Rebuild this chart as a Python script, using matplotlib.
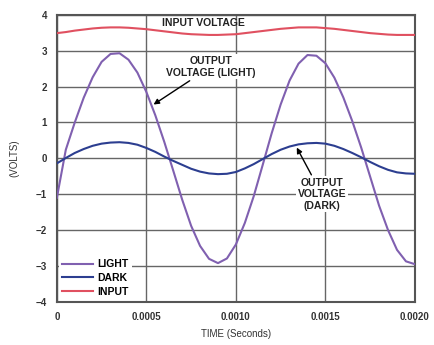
import matplotlib
matplotlib.use("Agg")
import matplotlib.pyplot as plt

plt.rcParams['font.family'] = ['Liberation Sans', 'DejaVu Sans']
plt.rcParams['font.weight'] = 'bold'

# time axis (seconds)
time_s = [0.0, 0.00005, 0.0001, 0.00015, 0.0002, 0.00025, 0.0003, 0.00035, 0.0004, 0.00045,
          0.0005, 0.00055, 0.0006, 0.00065, 0.0007, 0.00075, 0.0008, 0.00085, 0.0009, 0.00095,
          0.001, 0.00105, 0.0011, 0.00115, 0.0012, 0.00125, 0.0013, 0.00135, 0.0014, 0.00145,
          0.0015, 0.00155, 0.0016, 0.00165, 0.0017, 0.00175, 0.0018, 0.00185, 0.0019, 0.00195,
          0.002]

# output voltage, light
light_v = [-1.1, 0.24, 1.0, 1.69, 2.26, 2.69, 2.91, 2.93, 2.75, 2.39,
           1.85, 1.2, 0.46, -0.34, -1.15, -1.88, -2.44, -2.8, -2.92, -2.79,
           -2.4, -1.8, -1.05, -0.18, 0.7, 1.5, 2.17, 2.64, 2.88, 2.86,
           2.65, 2.25, 1.7, 1.04, 0.3, -0.51, -1.32, -2.0, -2.55, -2.87,
           -2.95]

# output voltage, dark
dark_v = [-0.14, 0.01, 0.15, 0.26, 0.35, 0.41, 0.44, 0.45, 0.43, 0.38,
          0.29, 0.18, 0.05, -0.07, -0.18, -0.29, -0.37, -0.42, -0.44, -0.43,
          -0.38, -0.28, -0.16, -0.02, 0.12, 0.24, 0.33, 0.39, 0.42, 0.43,
          0.41, 0.35, 0.26, 0.15, 0.03, -0.1, -0.22, -0.32, -0.39, -0.42,
          -0.43]

# input voltage
input_v = [3.49, 3.52, 3.56, 3.59, 3.62, 3.64, 3.65, 3.65, 3.64, 3.62,
           3.6, 3.57, 3.54, 3.51, 3.48, 3.46, 3.45, 3.44, 3.44, 3.45,
           3.46, 3.49, 3.52, 3.55, 3.58, 3.61, 3.63, 3.65, 3.65, 3.65,
           3.63, 3.61, 3.58, 3.55, 3.52, 3.49, 3.47, 3.45, 3.44, 3.44,
           3.44]

x_ticks = [0, 0.0005, 0.001, 0.0015, 0.002]
x_labels = ['0', '0.0005', '0.0010', '0.0015', '0.0020']
y_ticks = [-4, -3, -2, -1, 0, 1, 2, 3, 4]

fig = plt.figure(figsize=(4.34, 3.45), dpi=100)
ax = fig.add_axes([0.131, 0.125, 0.825, 0.832])

ax.plot(time_s, light_v, color='#8060b0', lw=1.5, label='LIGHT', zorder=3)
ax.plot(time_s, dark_v, color='#2c3e90', lw=1.5, label='DARK', zorder=3)
ax.plot(time_s, input_v, color='#e05060', lw=1.5, label='INPUT', zorder=3)

ax.set_xlim(0, 0.002)
ax.set_ylim(-4, 4)
ax.set_xticks(x_ticks)
ax.set_xticklabels(x_labels)
ax.set_yticks(y_ticks)
ax.set_yticklabels([str(v).replace('-', '\u2212') for v in y_ticks])
ax.tick_params(length=0, labelsize=7, pad=7, colors='#333333')
ax.grid(True, color='#666666', lw=1.0, zorder=1)
for s in ax.spines.values():
    s.set_color('#555555')
    s.set_linewidth(1.5)

ax.set_xlabel('TIME (Seconds)', fontsize=7, labelpad=5, color='#333333')
ax.set_ylabel('(VOLTS)', fontsize=7, labelpad=12, color='#333333')

box = dict(boxstyle='square,pad=0.15', fc='white', ec='none')
ax.text(0.00082, 3.77, 'INPUT VOLTAGE', fontsize=7.5, ha='center', va='center',
        color='#222222', zorder=4)
ax.annotate('OUTPUT\nVOLTAGE (LIGHT)', xy=(0.00054, 1.5), xytext=(0.00086, 2.55),
            fontsize=7.5, ha='center', va='center', color='#222222', bbox=box,
            arrowprops=dict(arrowstyle='-|>', color='black', lw=1.0,
                            shrinkA=2, shrinkB=0, mutation_scale=8),
            zorder=4)
ax.annotate('OUTPUT\nVOLTAGE\n(DARK)', xy=(0.00134, 0.3), xytext=(0.00148, -1.0),
            fontsize=7.5, ha='center', va='center', color='#222222', bbox=box,
            arrowprops=dict(arrowstyle='-|>', color='black', lw=1.0,
                            shrinkA=1, shrinkB=0, mutation_scale=8),
            zorder=4)

leg = ax.legend(loc='lower left', fontsize=7.5, frameon=True, handlelength=3.0,
                handletextpad=0.4, labelspacing=0.35, borderaxespad=0.2,
                borderpad=0.3, fancybox=False)
leg.get_frame().set_facecolor('white')
leg.get_frame().set_edgecolor('none')
leg.get_frame().set_alpha(1)
leg.set_zorder(5)

fig.savefig('out.png', dpi=100)
